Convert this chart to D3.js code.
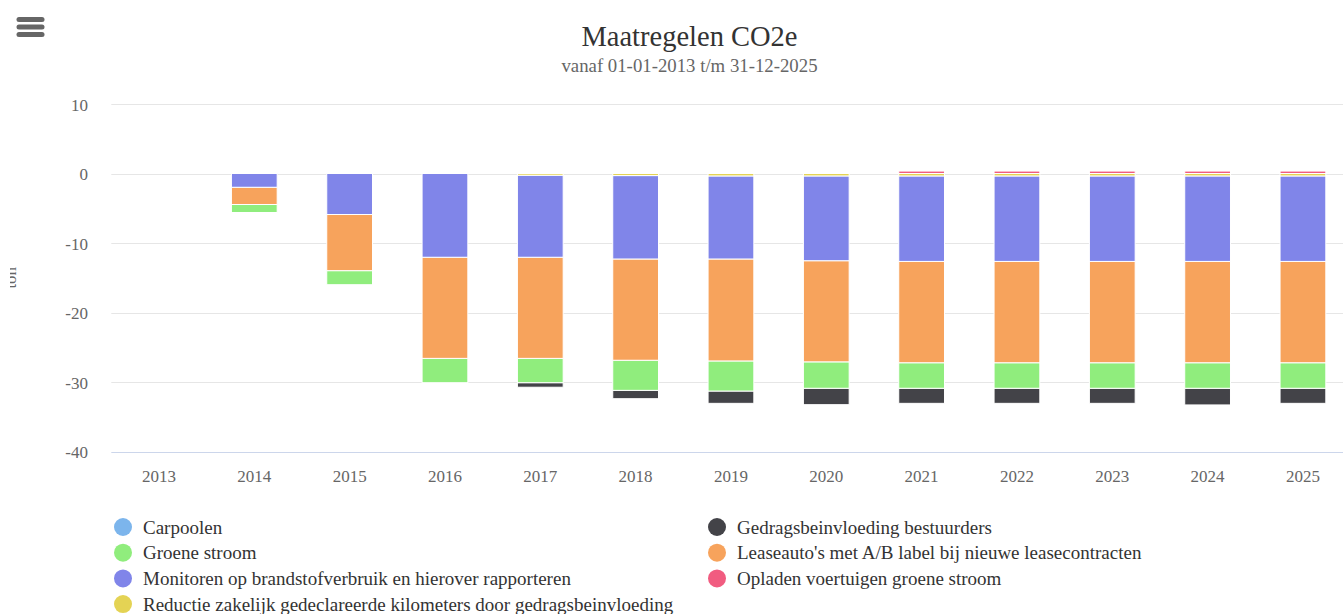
<!DOCTYPE html>
<html>
<head>
<meta charset="utf-8">
<script src="https://cdn.jsdelivr.net/npm/d3@7"></script>
<style>
	body{margin:0;padding:0;background:#fff;overflow:hidden;}
	svg{display:block;font-family:"Liberation Serif","Times New Roman",serif;}
	svg text{font-family:"Liberation Serif","Times New Roman",serif;}
</style>
</head>
<body>
<div id="chart"></div>
<script>

// ----------------------------------------------------------------------------
// data
// ----------------------------------------------------------------------------

var years = ["2013","2014","2015","2016","2017","2018","2019","2020","2021","2022","2023","2024","2025"];

var seriesNames = [
	"Carpoolen",
	"Gedragsbeinvloeding bestuurders",
	"Groene stroom",
	"Leaseauto's met A/B label bij nieuwe leasecontracten",
	"Monitoren op brandstofverbruik en hierover rapporteren",
	"Opladen voertuigen groene stroom",
	"Reductie zakelijk gedeclareerde kilometers door gedragsbeinvloeding"
];

var seriesColors = ["#7cb5ec","#434348","#90ed7d","#f7a35c","#8085e9","#f15c80","#e4d354"];

// values in ton, one per year
var carpoolen      = [0,0,0,0,0,0,0,0,0,0,0,0,0];
var gedrags        = [0,0,0,0,-0.65,-1.2,-1.77,-2.36,-2.17,-2.17,-2.17,-2.4,-2.17];
var groeneStroom   = [0,-1.15,-2.02,-3.5,-3.5,-4.33,-4.33,-3.8,-3.67,-3.67,-3.67,-3.67,-3.67];
var leaseauto      = [0,-2.48,-8.08,-14.55,-14.55,-14.57,-14.67,-14.55,-14.58,-14.58,-14.58,-14.58,-14.58];
var monitoren      = [0,-1.98,-5.9,-12.05,-11.8,-12.0,-11.95,-12.2,-12.3,-12.3,-12.3,-12.3,-12.3];
var opladen        = [0,0,0,0,0,0,0,0,0.35,0.35,0.35,0.35,0.35];
var reductie       = [0,0,0,0,-0.25,-0.3,-0.35,-0.35,-0.35,-0.35,-0.35,-0.35,-0.35];

var seriesValues = [carpoolen,gedrags,groeneStroom,leaseauto,monitoren,opladen,reductie];

var yTicks = [10,0,-10,-20,-30,-40];

// ----------------------------------------------------------------------------
// layout
// ----------------------------------------------------------------------------

var WIDTH = 1343, HEIGHT = 614;
var PLOT_LEFT = 111.3, PLOT_RIGHT = 1350.6;
var PLOT_TOP = 104, PLOT_BOTTOM = 451.5;
var TITLE_X = 689.5;

var svg = d3.select("#chart").append("svg")
	.attr("width",WIDTH)
	.attr("height",HEIGHT);

var x = d3.scaleBand()
	.domain(years)
	.range([PLOT_LEFT,PLOT_RIGHT])
	.paddingInner(0.52)
	.paddingOuter(0.26);

var y = d3.scaleLinear()
	.domain([-40,10])
	.range([PLOT_BOTTOM,PLOT_TOP]);

// table for d3.stack : one row per year
var table = years.map(function(yr,i){
	var row = {year:yr};
	seriesNames.forEach(function(n,s){row[n]=seriesValues[s][i];});
	return row;
});

// highcharts style: last series sits closest to the zero line
var stack = d3.stack()
	.keys(seriesNames)
	.order(d3.stackOrderReverse)
	.offset(d3.stackOffsetDiverging);

var layers = stack(table);


// ---------------------------------------------- menu icon --------------------------------------------------
var gMenu = svg.append("g").attr("id","menu");
[17,24.5,32].forEach(function(my){
	gMenu.append("rect")
		.attr("x",16.5)
		.attr("y",my)
		.attr("width",28)
		.attr("height",5)
		.attr("rx",2.5)
		.style("fill","#666");
});

// ---------------------------------------------- titles --------------------------------------------------
svg.append("text")
	.attr("x",TITLE_X)
	.attr("y",46)
	.attr("text-anchor","middle")
	.style("font-size","28.5px")
	.style("fill","#333")
	.text("Maatregelen CO2e");

svg.append("text")
	.attr("x",TITLE_X)
	.attr("y",72)
	.attr("text-anchor","middle")
	.style("font-size","18.8px")
	.style("fill","#666")
	.text("vanaf 01-01-2013 t/m 31-12-2025");

// ---------------------------------------------- grid + y axis --------------------------------------------------
var gGrid = svg.append("g").attr("id","grid");

gGrid.selectAll("line")
	.data(yTicks)
	.enter()
	.append("line")
	.attr("x1",PLOT_LEFT)
	.attr("x2",PLOT_RIGHT)
	.attr("y1",function(d){return Math.round(y(d))+0.5;})
	.attr("y2",function(d){return Math.round(y(d))+0.5;})
	.style("stroke",function(d){return d==-40 ? "#ccd6eb" : "#e6e6e6";})
	.style("stroke-width",1);

// plain hyphen for negatives, like the original
var yAxis = d3.axisLeft(y)
	.tickValues(yTicks)
	.tickFormat(function(d){return String(d);})
	.tickSize(0)
	.tickPadding(0);

var gY = svg.append("g")
	.attr("transform","translate(88,0)")
	.call(yAxis);
gY.attr("font-family",null).attr("font-size",null);
gY.select(".domain").remove();
gY.selectAll("text")
	.attr("dy","0.36em")
	.style("font-size","17px")
	.style("fill","#666");

// axis title, partly cut off at the left edge
svg.append("clipPath")
	.attr("id","ytitleClip")
	.append("rect")
	.attr("x",10).attr("y",0)
	.attr("width",30).attr("height",HEIGHT);

svg.append("g")
	.attr("clip-path","url(#ytitleClip)")
	.append("text")
	.attr("transform","translate(16,"+((PLOT_TOP+PLOT_BOTTOM)/2)+") rotate(-90)")
	.attr("text-anchor","middle")
	.style("font-size","17px")
	.style("fill","#666")
	.text("ton");

// ---------------------------------------------- x axis --------------------------------------------------
var xAxis = d3.axisBottom(x).tickSize(0).tickPadding(0);
var gX = svg.append("g")
	.attr("transform","translate(0,"+PLOT_BOTTOM+")")
	.call(xAxis);
gX.attr("font-family",null).attr("font-size",null);
gX.select(".domain").remove();
gX.selectAll("text")
	.attr("y",30)
	.attr("dy",0)
	.style("font-size","17px")
	.style("fill","#666");

// ---------------------------------------------- bars --------------------------------------------------
var gBars = svg.append("g").attr("id","bars");

gBars.selectAll("g.series")
	.data(layers)
	.enter()
	.append("g")
	.attr("class","series")
	.style("fill",function(d){return seriesColors[seriesNames.indexOf(d.key)];})
	.each(function(layer){
		d3.select(this).selectAll("rect")
			.data(layer.filter(function(p){return p[1]-p[0]!=0;}))
			.enter()
			.append("rect")
			.attr("x",function(p){return x(p.data.year);})
			.attr("width",x.bandwidth())
			.attr("y",function(p){return y(Math.max(p[0],p[1]));})
			.attr("height",function(p){return Math.abs(y(p[0])-y(p[1]));})
			.style("stroke","#fff")
			.style("stroke-width",1);
	});

// ---------------------------------------------- legend --------------------------------------------------
var LEGEND_COLS = [123,717];
var LEGEND_ROW0 = 527, LEGEND_ROWH = 25.7;

var gLegend = svg.append("g").attr("id","legend");
var items = gLegend.selectAll("g.item")
	.data(seriesNames)
	.enter()
	.append("g")
	.attr("class","item")
	.attr("transform",function(d,i){
		return "translate("+LEGEND_COLS[i%2]+","+(LEGEND_ROW0+Math.floor(i/2)*LEGEND_ROWH)+")";
	});

items.append("circle")
	.attr("r",9)
	.style("fill",function(d,i){return seriesColors[i];});

items.append("text")
	.attr("x",20)
	.attr("y",6.5)
	.style("font-size","19px")
	.style("fill","#333")
	.text(function(d){return d;});

</script>
</body>
</html>
